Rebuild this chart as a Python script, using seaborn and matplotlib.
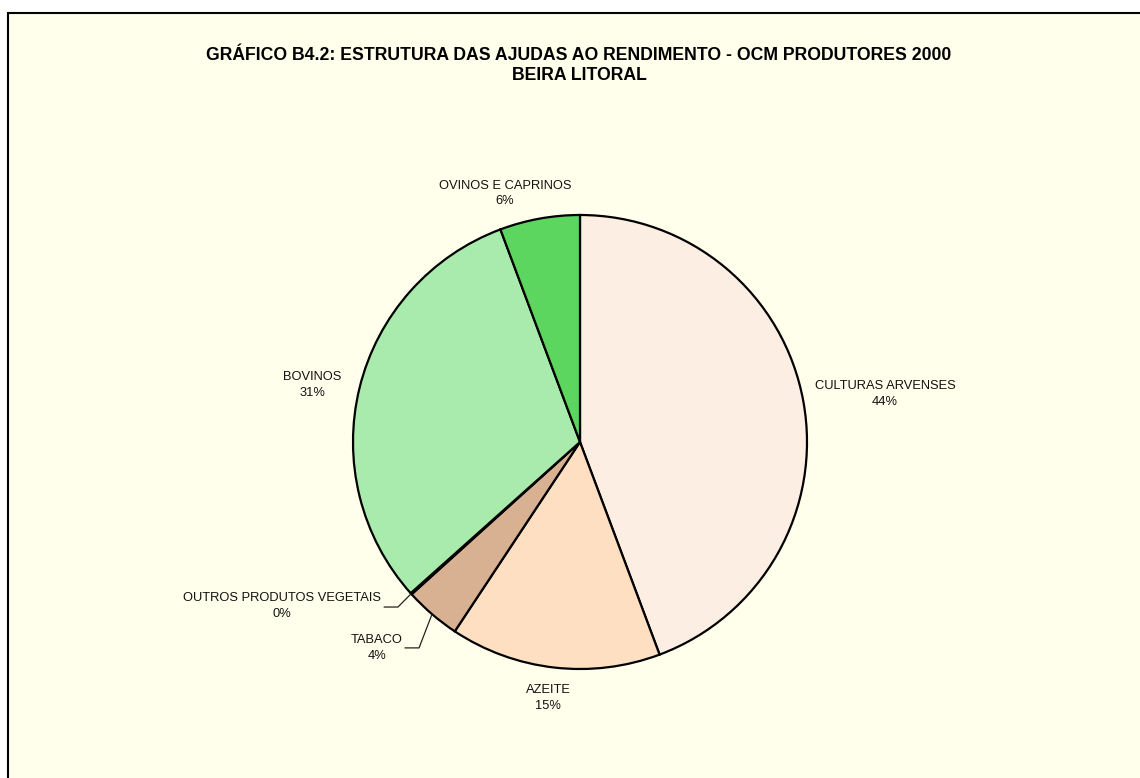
import matplotlib
matplotlib.use("Agg")
import matplotlib.pyplot as plt
import seaborn as sns
import numpy as np
from matplotlib.patches import Rectangle

# Data (clockwise from 12 o'clock)
categories = ["CULTURAS ARVENSES", "AZEITE", "TABACO",
              "OUTROS PRODUTOS VEGETAIS", "BOVINOS", "OVINOS E CAPRINOS"]
shares = [44.3, 15.0, 4.0, 0.1, 30.9, 5.7]
pct_labels = ["44%", "15%", "4%", "0%", "31%", "6%"]
colors = ["#FDEEE3", "#FEDFC2", "#D8B092", "#E8D0B8", "#A9EBAD", "#5CD65E"]

# label positions (pie radius units) and leader-line elbows
label_pos = [(1.344, 0.211), (-0.141, -1.128), (-0.894, -0.907),
             (-1.313, -0.722), (-1.18, 0.25), (-0.33, 1.095)]
leader_elbow = {2: (-0.709, -0.907, -0.771), 3: (-0.802, -0.727, -0.863)}

sns.set_theme(style="white")
plt.rcParams["font.family"] = ["Liberation Sans", "DejaVu Sans"]

fig = plt.figure(figsize=(11.4, 7.78), dpi=100, facecolor="white")
fig.patches.append(Rectangle((8 / 1140, -0.02), 1.05, 1 - 13 / 778 + 0.02,
                             transform=fig.transFigure, facecolor="#FFFFEC",
                             edgecolor="black", linewidth=1.5, zorder=-10))

ax = fig.add_axes([353 / 1140, 109 / 778, 454 / 1140, 454 / 778])
ax.set_facecolor("none")
wedges, _ = ax.pie(shares, colors=colors, startangle=90, counterclock=False,
                   wedgeprops=dict(edgecolor="black", linewidth=1.6))
ax.set_xlim(-1, 1)
ax.set_ylim(-1, 1)
ax.axis("off")

for i, (name, pct) in enumerate(zip(categories, pct_labels)):
    x, y = label_pos[i]
    ax.text(x, y, f"{name}\n{pct}", ha="center", va="center", fontsize=9.3,
            color="#111111", linespacing=1.4, clip_on=False)
    if i in leader_elbow:
        w = wedges[i]
        mid = np.deg2rad((w.theta1 + w.theta2) / 2)
        ex, ey, endx = leader_elbow[i]
        ax.plot([np.cos(mid), ex, endx], [np.sin(mid), ey, ey], color="#222222",
                linewidth=0.9, clip_on=False)

fig.text(579 / 1140, 1 - 55 / 778, "GRÁFICO B4.2: ESTRUTURA DAS AJUDAS AO RENDIMENTO - OCM PRODUTORES 2000",
         ha="center", va="center", fontsize=12.7, fontweight="bold", color="black")
fig.text(579 / 1140, 1 - 75 / 778, "BEIRA LITORAL", ha="center", va="center",
         fontsize=12.7, fontweight="bold", color="black")

fig.savefig("out.png", dpi=100, facecolor=fig.get_facecolor())
